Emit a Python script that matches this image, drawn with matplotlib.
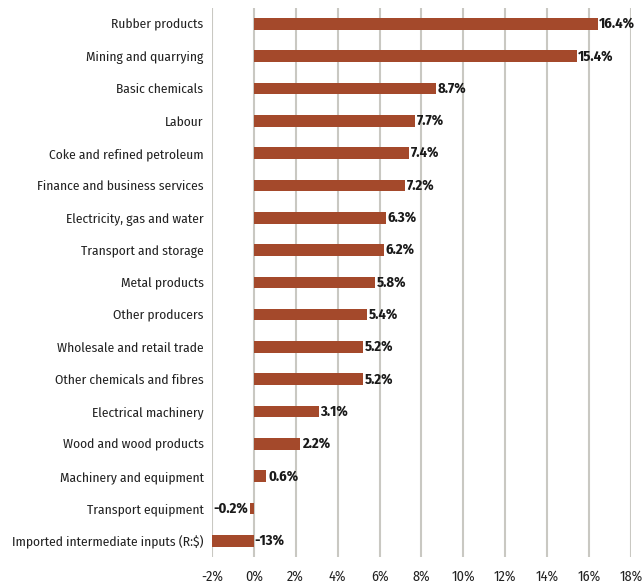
import matplotlib as mpl
import matplotlib.pyplot as plt
import numpy as np

categories = ["Rubber products", "Mining and quarrying", "Basic chemicals", "Labour",
              "Coke and refined petroleum", "Finance and business services",
              "Electricity, gas and water", "Transport and storage", "Metal products",
              "Other producers", "Wholesale and retail trade", "Other chemicals and fibres",
              "Electrical machinery", "Wood and wood products", "Machinery and equipment",
              "Transport equipment", "Imported intermediate inputs (R:$)"]
values = [16.4, 15.4, 8.7, 7.7, 7.4, 7.2, 6.3, 6.2, 5.8, 5.4, 5.2, 5.2, 3.1, 2.2, 0.6, -0.2, -13]
value_labels = ["16.4%", "15.4%", "8.7%", "7.7%", "7.4%", "7.2%", "6.3%", "6.2%", "5.8%",
                "5.4%", "5.2%", "5.2%", "3.1%", "2.2%", "0.6%", "-0.2%", "-13%"]
xticks = np.arange(-2, 19, 2)

mpl.rcParams['font.family'] = ['Fira Sans Condensed', 'DejaVu Sans']

fig = plt.figure(figsize=(6.44, 5.87), dpi=100, facecolor='white')
ax = fig.add_axes([0.329, 0.051, 0.651, 0.936])

y = np.arange(len(categories))
ax.barh(y, values, height=0.36, color='#a4492b', zorder=3)

xmin, xmax = -2, 18
for yi, v, lab in zip(y, values, value_labels):
    if v < xmin:
        x, ha = 0.03, 'left'   # bar runs off the axis, label sits at zero
    elif v < 0:
        x, ha = v - 0.05, 'right'
    else:
        x, ha = v + 0.08, 'left'
    ax.text(x, yi, lab, ha=ha, va='center', fontsize=10.5, fontweight='bold', color='#1a1a1a')

ax.set_xlim(xmin, xmax)
ax.set_ylim(len(categories) - 0.5, -0.5)
ax.set_yticks(y)
ax.set_yticklabels(categories, fontsize=9.7, color='#222222')
ax.set_xticks(xticks)
ax.set_xticklabels(["{}%".format(t) for t in xticks], fontsize=10.2, color='#222222')
ax.tick_params(length=0)
ax.tick_params(axis='y', pad=6)
ax.tick_params(axis='x', pad=9)
ax.grid(axis='x', color='#c9c8c2', linewidth=1.5, zorder=0)
for s in ax.spines.values():
    s.set_visible(False)

fig.savefig('out.png', dpi=100, facecolor='white')
